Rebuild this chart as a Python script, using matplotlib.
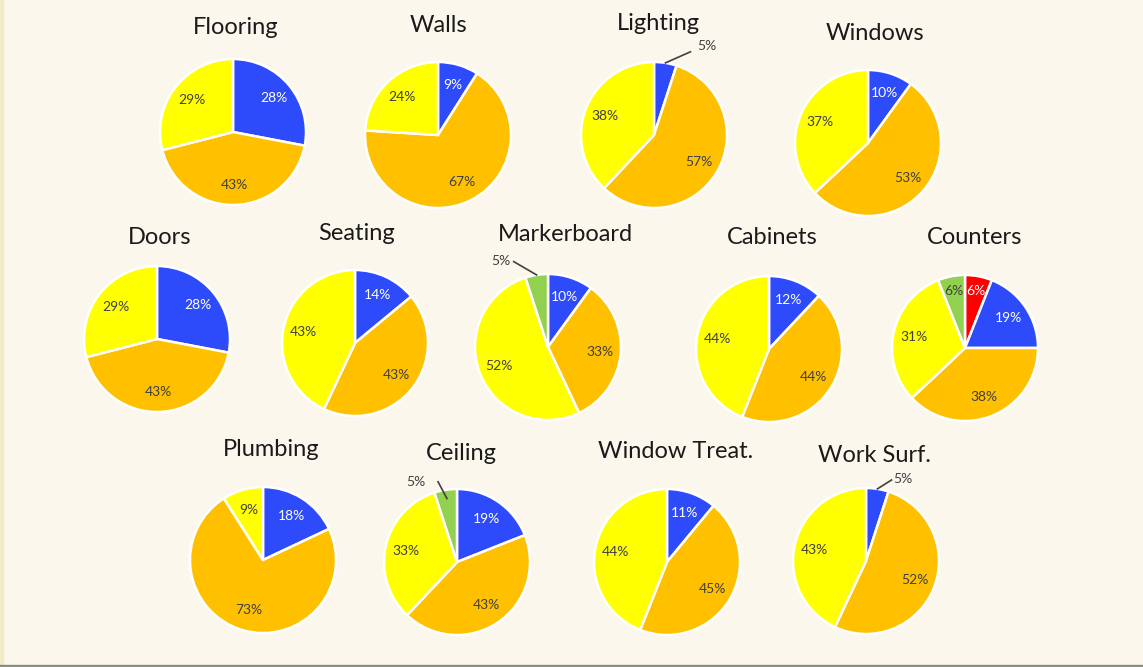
import math
import matplotlib
matplotlib.use("Agg")
from matplotlib import pyplot as plt
from matplotlib.patches import Rectangle

plt.rcParams['font.family'] = ['Lato', 'DejaVu Sans']

# data: share of each slice, clockwise from 12 o'clock
titles = ["Flooring", "Walls", "Lighting", "Windows",
          "Doors", "Seating", "Markerboard", "Cabinets", "Counters",
          "Plumbing", "Ceiling", "Window Treat.", "Work Surf."]
slice_colors = {
    "red": "#FF0000",
    "blue": "#2E4BFB",
    "orange": "#FFC000",
    "yellow": "#FFFF00",
    "green": "#92D050",
}
flooring = [("blue", 28), ("orange", 43), ("yellow", 29)]
walls = [("blue", 9), ("orange", 67), ("yellow", 24)]
lighting = [("blue", 5), ("orange", 57), ("yellow", 38)]
windows = [("blue", 10), ("orange", 53), ("yellow", 37)]
doors = [("blue", 28), ("orange", 43), ("yellow", 29)]
seating = [("blue", 14), ("orange", 43), ("yellow", 43)]
markerboard = [("blue", 10), ("orange", 33), ("yellow", 52), ("green", 5)]
cabinets = [("blue", 12), ("orange", 44), ("yellow", 44)]
counters = [("red", 6), ("blue", 19), ("orange", 38), ("yellow", 31), ("green", 6)]
plumbing = [("blue", 18), ("orange", 73), ("yellow", 9)]
ceiling = [("blue", 19), ("orange", 43), ("yellow", 33), ("green", 5)]
window_treat = [("blue", 11), ("orange", 45), ("yellow", 44)]
work_surf = [("blue", 5), ("orange", 52), ("yellow", 43)]
pies = [flooring, walls, lighting, windows, doors, seating, markerboard,
        cabinets, counters, plumbing, ceiling, window_treat, work_surf]

# layout in pixels: pie centre and title position
W, H = 1143, 667
R = 73
centers = [(233, 132), (438, 135), (654, 135), (868, 143),
           (157, 339), (355, 343), (548, 347), (769, 349), (965, 348),
           (263, 560), (457, 562), (667, 562), (866, 561)]
title_pos = [(236, 27), (438, 25), (658, 24), (875, 34),
             (160, 238), (357, 234), (565, 235), (772, 238), (975, 237),
             (271, 450), (461, 453), (676, 452), (874, 456)]
# outside labels for tiny slices: pie index -> (slice idx, label xy, line start r, line end xy)
outside = {
    2: (0, (0.72, 1.22), 1.0, (0.50, 1.14)),
    6: (3, (-0.65, 1.18), 1.0, (-0.47, 1.17)),
    10: (3, (-0.57, 1.10), 0.88, (-0.26, 1.10)),
    12: (0, (0.50, 1.12), 1.0, (0.35, 1.11)),
}

fig = plt.figure(figsize=(W / 100, H / 100), dpi=100)
fig.patch.set_facecolor("#FCF7EC")
fig.patches.append(Rectangle((0, 0), 3 / W, 1, transform=fig.transFigure,
                             color="#F3EBC8", zorder=0))
fig.patches.append(Rectangle((0, 0), 1, 2 / H, transform=fig.transFigure,
                             color="#8C8C80", zorder=0))

for i, data in enumerate(pies):
    cx, cy = centers[i]
    ax = fig.add_axes([(cx - R) / W, 1 - (cy + R) / H, 2 * R / W, 2 * R / H])
    vals = [v for _, v in data]
    cols = [slice_colors[c] for c, _ in data]
    ax.pie(vals, colors=cols, startangle=90, counterclock=False,
           wedgeprops=dict(edgecolor="white", linewidth=1.8))
    total = sum(vals)
    ang = 90
    for j, (c, v) in enumerate(data):
        mid = ang - 360 * v / total / 2
        ang -= 360 * v / total
        if i in outside and outside[i][0] == j:
            _, lxy, r0, lend = outside[i]
            x0, y0 = r0 * math.cos(math.radians(mid)), r0 * math.sin(math.radians(mid))
            ax.plot([x0, lend[0]], [y0, lend[1]], color="#404040", lw=1.2, clip_on=False)
            ax.text(lxy[0], lxy[1], f"{v}%", ha="center", va="center",
                    fontsize=10, color="#404040")
            continue
        d = 0.8 if v < 8 else 0.72
        tc = "white" if c in ("blue", "red") else "#404040"
        ax.text(d * math.cos(math.radians(mid)), d * math.sin(math.radians(mid)),
                f"{v}%", ha="center", va="center", fontsize=10, color=tc)
    ax.set_xlim(-1, 1)
    ax.set_ylim(-1, 1)
    ax.axis("off")
    tx, ty = title_pos[i]
    fig.text(tx / W, 1 - ty / H, titles[i], ha="center", va="center",
             fontsize=17, color="#1A1A1A")

plt.savefig("out.png", dpi=100, facecolor=fig.get_facecolor())
